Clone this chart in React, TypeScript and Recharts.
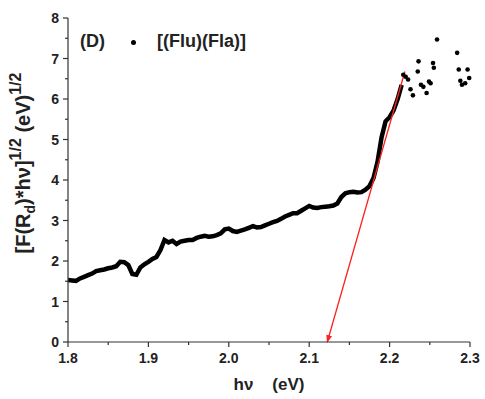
import {
  ComposedChart,
  Line,
  Scatter,
  XAxis,
  YAxis,
  ReferenceLine,
} from 'recharts'

// photon energy (eV) for the dense part of the curve
const energy = [
  1.8, 1.805, 1.81, 1.815, 1.82, 1.825, 1.83, 1.835, 1.84, 1.845,
  1.85, 1.855, 1.86, 1.865, 1.87, 1.875, 1.88, 1.885, 1.89, 1.895,
  1.9, 1.905, 1.91, 1.915, 1.92, 1.925, 1.93, 1.935, 1.94, 1.945,
  1.95, 1.955, 1.96, 1.965, 1.97, 1.975, 1.98, 1.985, 1.99, 1.995,
  2.0, 2.005, 2.01, 2.015, 2.02, 2.025, 2.03, 2.035, 2.04, 2.045,
  2.05, 2.055, 2.06, 2.065, 2.07, 2.075, 2.08, 2.085, 2.09, 2.095,
  2.1, 2.105, 2.11, 2.115, 2.12, 2.125, 2.13, 2.135, 2.14, 2.145,
  2.15, 2.155, 2.16, 2.165, 2.17, 2.175, 2.18, 2.185, 2.19, 2.195,
  2.2, 2.205, 2.21, 2.215,
]
// [F(Rd)*hv]^1/2 values
const kubelka = [
  1.53, 1.52, 1.51, 1.57, 1.61, 1.65, 1.69, 1.75, 1.77, 1.79,
  1.82, 1.84, 1.87, 1.98, 1.97, 1.9, 1.68, 1.66, 1.84, 1.92,
  1.98, 2.05, 2.1, 2.27, 2.52, 2.46, 2.5, 2.42, 2.48, 2.5,
  2.52, 2.52, 2.57, 2.6, 2.62, 2.6, 2.61, 2.64, 2.68, 2.78,
  2.8, 2.74, 2.72, 2.75, 2.78, 2.82, 2.86, 2.83, 2.84, 2.88,
  2.92, 2.96, 2.99, 3.04, 3.1, 3.14, 3.18, 3.18, 3.24, 3.3,
  3.36, 3.32, 3.31, 3.33, 3.34, 3.35, 3.37, 3.42, 3.58, 3.67,
  3.7, 3.71, 3.69, 3.7, 3.76, 3.85, 4.05, 4.45, 5.05, 5.45,
  5.55, 5.72, 6.0, 6.35,
]

// scattered points above the edge
const sparseEnergy = [
  2.217, 2.22, 2.223, 2.226, 2.229, 2.235, 2.236, 2.239, 2.242, 2.246,
  2.249, 2.251, 2.254, 2.255, 2.259, 2.284, 2.286, 2.288, 2.29, 2.294,
  2.297, 2.299,
]
const sparseValue = [
  6.6, 6.55, 6.48, 6.24, 6.09, 6.68, 6.93, 6.35, 6.3, 6.15,
  6.43, 6.39, 6.89, 6.77, 7.47, 7.14, 6.73, 6.45, 6.35, 6.39,
  6.73, 6.52,
]

// fitted tangent: top point and x-intercept
const fitTop = { x: 2.219, y: 6.68 }
const fitZero = { x: 2.1225, y: 0 }

const xTicks = [1.8, 1.85, 1.9, 1.95, 2.0, 2.05, 2.1, 2.15, 2.2, 2.25, 2.3]
const xLabels = ['1.8', '1.9', '2.0', '2.1', '2.2', '2.3']
const yTicks = [0, 0.5, 1, 1.5, 2, 2.5, 3, 3.5, 4, 4.5, 5, 5.5, 6, 6.5, 7, 7.5, 8]

const dense = energy.map((x, i) => ({ x, y: kubelka[i] }))
const sparse = sparseEnergy.map((x, i) => ({ x, y: sparseValue[i] }))

const FONT = 'Liberation Sans, Arial, sans-serif'
const INK = '#222'

const XTick = ({ x, y, payload }: any) => {
  const v = payload.value
  const label = xLabels.find((l) => Math.abs(parseFloat(l) - v) < 1e-6)
  return (
    <g>
      <line x1={x} y1={y} x2={x} y2={y + (label ? 5 : 3)} stroke="#333" strokeWidth={1.2} />
      {label && (
        <text x={x} y={y + 21} textAnchor="middle" fontSize={14} fontWeight="bold" fill={INK} fontFamily={FONT}>
          {label}
        </text>
      )}
    </g>
  )
}

const YTick = ({ x, y, payload }: any) => {
  const v = payload.value
  const major = Number.isInteger(v)
  return (
    <g>
      <line x1={x} y1={y} x2={x - (major ? 5 : 3)} y2={y} stroke="#333" strokeWidth={1.2} />
      {major && (
        <text x={x - 9} y={y + 5} textAnchor="end" fontSize={14} fontWeight="bold" fill={INK} fontFamily={FONT}>
          {v}
        </text>
      )}
    </g>
  )
}

const YLabel = ({ viewBox }: any) => {
  const cx = viewBox.x + 30
  const cy = viewBox.y + viewBox.height / 2 - 17
  return (
    <text
      x={cx}
      y={cy}
      transform={`rotate(-90 ${cx} ${cy})`}
      textAnchor="middle"
      fontSize={20}
      fontWeight="bold"
      fill={INK}
      fontFamily={FONT}
    >
      <tspan>[F(R</tspan>
      <tspan fontSize={14} dy={5}>d</tspan>
      <tspan dy={-5}>)*hν]</tspan>
      <tspan fontSize={16} dy={-9}>1/2</tspan>
      <tspan dy={9}> (eV)</tspan>
      <tspan fontSize={16} dy={-9}>1/2</tspan>
    </text>
  )
}

const XLabel = ({ viewBox }: any) => {
  const cx = viewBox.x + viewBox.width / 2
  const y = viewBox.y + 48
  return (
    <text x={cx} y={y} textAnchor="middle" fontSize={17} fontWeight="bold" fill={INK} fontFamily={FONT} style={{ whiteSpace: 'pre' }}>
      {'hν\u00a0\u00a0\u00a0\u00a0(eV)'}
    </text>
  )
}

const Arrow = (props: any) => {
  const { x1, y1, x2, y2 } = props
  return (
    <g>
      <defs>
        <marker id="arrowHead" markerWidth="8" markerHeight="8" refX="7" refY="4" orient="auto" markerUnits="userSpaceOnUse">
          <path d="M0,1 L8,4 L0,7 Z" fill="#ff2020" />
        </marker>
      </defs>
      <line x1={x1} y1={y1} x2={x2} y2={y2} stroke="#ff2020" strokeWidth={1.3} markerEnd="url(#arrowHead)" />
    </g>
  )
}

const legendText = {
  position: 'absolute' as const,
  top: 31,
  fontFamily: FONT,
  fontWeight: 'bold' as const,
  fontSize: 18,
  color: INK,
  whiteSpace: 'pre' as const,
}

export default function App() {
  return (
    <div style={{ position: 'absolute', left: 0, top: 0, width: 485, height: 399, background: '#fff' }}>
      <ComposedChart width={485} height={399} margin={{ top: 18, right: 15, bottom: 0, left: 0 }}>
        <XAxis
          xAxisId="top"
          orientation="top"
          type="number"
          dataKey="x"
          domain={[1.8, 2.3]}
          height={0}
          tick={false}
          tickLine={false}
          axisLine={{ stroke: '#aaa' }}
        />
        <YAxis
          yAxisId="right"
          orientation="right"
          type="number"
          domain={[0, 8]}
          width={0}
          tick={false}
          tickLine={false}
          axisLine={{ stroke: '#aaa' }}
        />
        <XAxis
          type="number"
          dataKey="x"
          domain={[1.8, 2.3]}
          ticks={xTicks}
          interval={0}
          height={57}
          tickSize={0}
          tickMargin={0}
          tickLine={false}
          tick={<XTick />}
          axisLine={{ stroke: '#333', strokeWidth: 1.2 }}
          label={{ content: <XLabel /> }}
        />
        <YAxis
          type="number"
          domain={[0, 8]}
          ticks={yTicks}
          interval={0}
          width={68}
          tickSize={0}
          tickMargin={0}
          tickLine={false}
          tick={<YTick />}
          axisLine={{ stroke: '#333', strokeWidth: 1.2 }}
          label={{ content: <YLabel /> }}
        />
        <Line
          data={dense}
          dataKey="y"
          type="linear"
          stroke="#000"
          strokeWidth={4.5}
          dot={false}
          isAnimationActive={false}
        />
        <Scatter data={sparse} dataKey="y" fill="#000" shape={(p: any) => <circle cx={p.cx} cy={p.cy} r={2.3} fill="#000" />} isAnimationActive={false} />
        <ReferenceLine segment={[fitTop, fitZero]} shape={<Arrow />} />
      </ComposedChart>
      <div style={{ ...legendText, left: 80 }}>(D)</div>
      <div style={{ position: 'absolute', left: 131, top: 40, width: 5, height: 5, borderRadius: 3, background: '#000' }} />
      <div style={{ ...legendText, left: 157 }}>[(Flu)(Fla)]</div>
    </div>
  )
}
